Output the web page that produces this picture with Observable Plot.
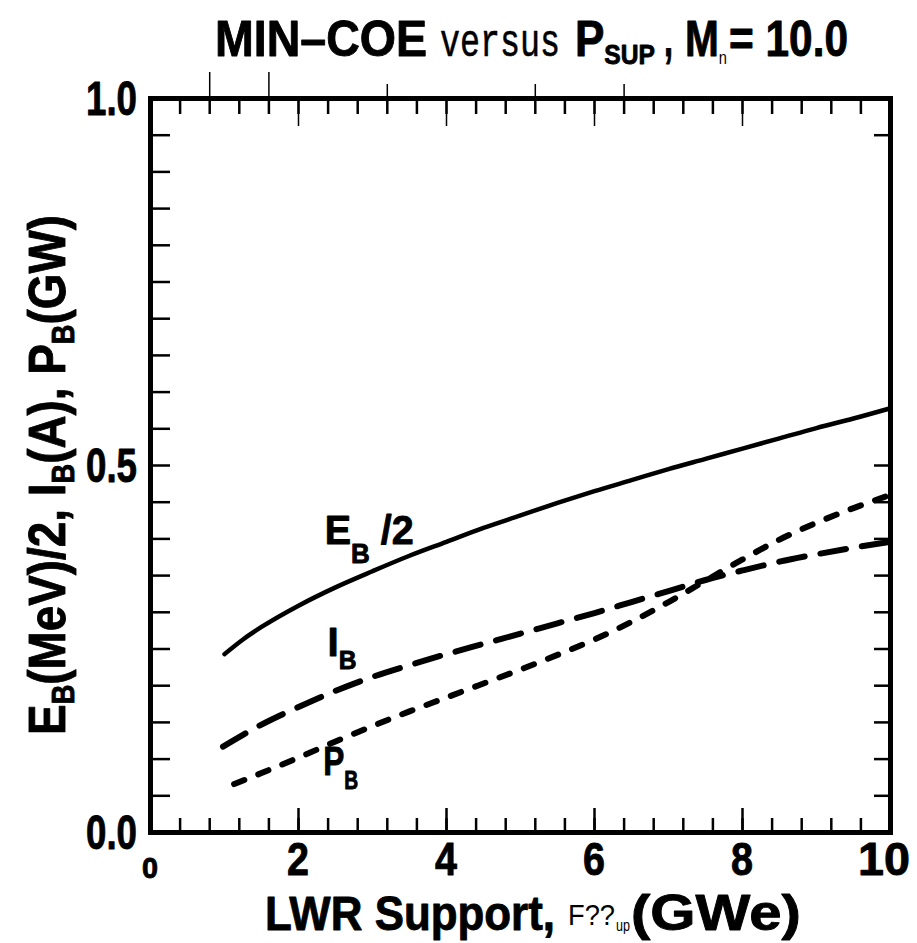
<!DOCTYPE html>
<html><head><meta charset="utf-8">
<script src="https://cdn.jsdelivr.net/npm/d3@7"></script>
<script src="https://cdn.jsdelivr.net/npm/@observablehq/plot@0.6"></script>
<style>body{margin:0;background:#fff}</style>
</head><body><div id="chart"></div>
<script>
// ---- data ----
const ebX = [1.0,1.25,1.5,2,2.5,3,3.5,4,4.5,5,5.5,6,6.5,7,7.5,8,8.5,9,9.5,10];
const ebY = [0.243,0.263,0.280,0.309,0.334,0.356,0.377,0.396,0.415,0.432,0.449,0.465,0.480,0.495,0.509,0.523,0.537,0.551,0.564,0.578];
const ibX = [0.98,1.25,1.5,2,2.5,3,3.5,4,4.5,5,5.5,6,6.5,7,7.5,8,8.5,9,9.5,10];
const ibY = [0.117,0.133,0.147,0.171,0.193,0.212,0.228,0.243,0.257,0.271,0.285,0.299,0.314,0.329,0.344,0.357,0.369,0.379,0.388,0.396];
const pbX = [1.13,1.5,2,2.5,3,3.5,4,4.5,5,5.5,6,6.5,7,7.5,8,8.5,9,9.5,10];
const pbY = [0.066,0.081,0.102,0.124,0.145,0.165,0.184,0.203,0.222,0.242,0.263,0.287,0.314,0.343,0.372,0.399,0.422,0.442,0.460];

const xTickLabels = ["0","2","4","6","8","10"];
const xTickValues = [0,2,4,6,8,10];
const yTickLabels = ["0.0","0.5","1.0"];
const yTickValues = [0,0.5,1];
const xMinor = d3.range(1,25).map(i => i*0.4);           // 0.4 .. 9.6
const xMajorInner = [2,4,6,8];
const yMinor = d3.range(1,20).map(i => i*0.05);          // 0.05 .. 0.95
const yRightTicks = [0.05,0.10,0.15,0.20,0.25,0.30,0.35,0.40,0.45,0.50,0.95];
const topUpLong = [0.8,1.6];
const topUpShort = [3.2,5.2,6.4];

const curveLabels = [
  {x:2.36, y:0.393, main:"E", sub:"B", tail:" /2", w:89, size:41, subSize:27, shift:19},
  {x:2.40, y:0.240, main:"I", sub:"B", tail:"",    w:29, size:41, subSize:25, shift:13},
  {x:2.34, y:0.078, main:"P", sub:"B", tail:"",    w:35, size:41, subSize:25, shift:14}
];

const F = "'Liberation Sans',Arial,sans-serif";
const MONO = "'Liberation Mono','DejaVu Sans Mono',monospace";
const pxY = 734, pxX = 740;   // plot-area size, used to convert tick lengths

const ebData = ebX.map((x,i)=>({x, y:ebY[i]}));
const ibData = ibX.map((x,i)=>({x, y:ibY[i]}));
const pbData = pbX.map((x,i)=>({x, y:pbY[i]}));

const tickStyle = {stroke:"#000", strokeWidth:2.5};
const plot = Plot.plot({
  width:917, height:943, marginLeft:150, marginRight:27, marginTop:98, marginBottom:111,
  x:{domain:[0,10], axis:null},
  y:{domain:[0,1], axis:null},
  style:{background:"#fff", overflow:"visible"},
  marks:[
    Plot.ruleX(xMinor, {x:d=>d, y1:0, y2:14/pxY, ...tickStyle}),
    Plot.ruleX(xMajorInner, {x:d=>d, y1:0, y2:24/pxY, ...tickStyle}),
    Plot.ruleX(xMinor, {x:d=>d, y1:1, y2:1-16/pxY, ...tickStyle}),
    Plot.ruleX(xMajorInner, {x:d=>d, y1:1, y2:1-28/pxY, stroke:"#000", strokeWidth:1.5}),
    Plot.ruleX(topUpLong, {x:d=>d, y1:1, y2:1+26/pxY, stroke:"#000", strokeWidth:1.5}),
    Plot.ruleX(topUpShort, {x:d=>d, y1:1, y2:1+14/pxY, stroke:"#000", strokeWidth:1.5}),
    Plot.ruleY(yMinor, {y:d=>d, x1:0, x2:20/pxX*10, ...tickStyle}),
    Plot.ruleY(yRightTicks, {y:d=>d, x1:10, x2:10-16/pxX*10, ...tickStyle}),
    Plot.line(ebData, {x:"x", y:"y", stroke:"#000", strokeWidth:4.5, curve:"monotone-x"}),
    Plot.line(ibData, {x:"x", y:"y", stroke:"#000", strokeWidth:6, curve:"monotone-x", strokeDasharray:"26 16", strokeLinecap:"round"}),
    Plot.line(pbData, {x:"x", y:"y", stroke:"#000", strokeWidth:6, curve:"monotone-x", strokeDasharray:"11 15", strokeLinecap:"round"}),
    Plot.frame({stroke:"#000", strokeWidth:5})
  ]
});
document.getElementById("chart").appendChild(plot);

const svg = d3.select(plot);
const sx = plot.scale("x"), sy = plot.scale("y");
const g = svg.append("g");

// text made of segments, squeezed horizontally to a target width (condensed look)
function addText(segs, {x, y, w, anchor="start", rotate=0}) {
  const t = g.append("text").attr("fill","#000").style("white-space","pre")
    .attr("text-anchor", anchor);
  for (const s of segs) {
    const bold = (s.w || "bold") === "bold";
    const ts = t.append("tspan").text(s.t)
      .attr("font-size", s.size).attr("font-weight", s.w || "bold")
      .attr("font-family", s.f || F);
    const sw = s.sw ?? (bold ? 0.9 : 0);
    if (sw) ts.attr("stroke","#000").attr("stroke-width", sw).attr("stroke-linejoin","round");
    if (s.dy) ts.attr("dy", s.dy);
  }
  const len = t.node().getComputedTextLength();
  const k = w ? w/len : 1;
  t.attr("transform", `translate(${x},${y}) rotate(${rotate}) scale(${k},1)`);
  return t;
}

// title, piece by piece
const TB = 56;
addText([{t:"MIN–COE", size:50}], {x:215, y:TB, w:212});
addText([{t:"versus", size:46, w:"normal", f:MONO, sw:0.6}], {x:440, y:TB, w:120});
addText([{t:"P", size:50}, {t:"SUP", size:28, dy:8}], {x:575, y:TB, w:80});
addText([{t:",", size:50}], {x:664, y:TB, w:9});
addText([{t:"M", size:50}, {t:"n", size:18, w:"normal", dy:8}], {x:685, y:TB, w:42});
addText([{t:"= 10.0", size:50}], {x:729, y:TB, w:119});

// y label
addText([
  {t:"E", size:52}, {t:"B", size:31, dy:9},
  {t:"(MeV)/2, I", size:52, dy:-9}, {t:"B", size:31, dy:9},
  {t:"(A), P", size:52, dy:-9}, {t:"B", size:31, dy:9},
  {t:"(GW)", size:52, dy:-9}
], {x:65, y:475, w:520, anchor:"middle", rotate:-90});

// x label, piece by piece
const XB = 930;
addText([{t:"LWR Support,", size:49}], {x:265, y:XB, w:290});
addText([{t:"F??", size:30, w:"normal"}], {x:568, y:XB-5, w:47});
addText([{t:"up", size:17, w:"normal"}], {x:616, y:XB+1, w:14});
addText([{t:"(GWe)", size:49}], {x:631, y:XB, w:170});

// y tick labels
yTickValues.forEach((v,i) => addText([{t:yTickLabels[i], size:48}],
  {x:sx.apply(0)-13, y:sy.apply(v)+17, w:51, anchor:"end"}));
// x tick labels
xTickValues.forEach((v,i) => {
  if (i === 0) addText([{t:xTickLabels[i], size:30}], {x:sx.apply(v), y:sy.apply(0)+46, w:16, anchor:"middle"});
  else if (i === xTickValues.length-1) addText([{t:xTickLabels[i], size:47}], {x:sx.apply(v)-6, y:sy.apply(0)+43, w:52, anchor:"middle"});
  else addText([{t:xTickLabels[i], size:47}], {x:sx.apply(v), y:sy.apply(0)+43, w:22, anchor:"middle"});
});

// curve labels
for (const L of curveLabels) {
  const segs = [{t:L.main, size:L.size}, {t:L.sub, size:L.subSize, dy:L.shift}];
  if (L.tail) segs.push({t:L.tail, size:L.size, dy:-L.shift});
  addText(segs, {x:sx.apply(L.x), y:sy.apply(L.y), w:L.w});
}
</script></body></html>
